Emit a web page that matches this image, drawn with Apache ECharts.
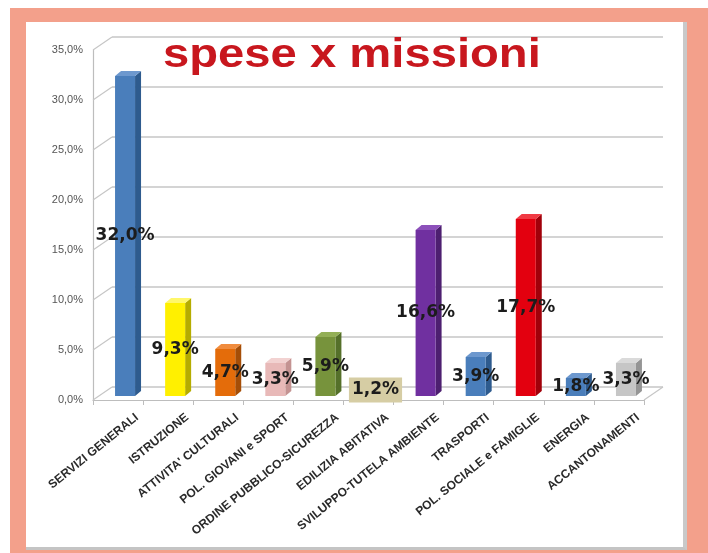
<!DOCTYPE html>
<html>
<head>
<meta charset="utf-8">
<script src="https://cdn.jsdelivr.net/npm/echarts@6/dist/echarts.min.js"></script>
<style>
  html, body { margin: 0; padding: 0; background: #ffffff; }
  #frame { position: absolute; left: 10px; top: 8px; width: 698px; height: 545px; background: #F3A08B; }
  #panel { position: absolute; left: 26px; top: 22px; width: 657px; height: 525px; background: #ffffff;
           border-right: 4px solid #c9c9c9; border-bottom: 3px solid #c4c4c4; }
  #chart { position: absolute; left: 0; top: 0; width: 708px; height: 553px; }
</style>
</head>
<body>
<div id="frame"></div>
<div id="panel"></div>
<div id="chart"></div>
<script>
// ---- data ----
const categories = [
  'SERVIZI GENERALI', 'ISTRUZIONE', "ATTIVITA' CULTURALI", 'POL. GIOVANI e SPORT',
  'ORDINE PUBBLICO-SICUREZZA', 'EDILIZIA ABITATIVA', 'SVILUPPO-TUTELA AMBIENTE',
  'TRASPORTI', 'POL. SOCIALE e FAMIGLIE', 'ENERGIA', 'ACCANTONAMENTI'
];
const values = [32.0, 9.3, 4.7, 3.3, 5.9, 1.2, 16.6, 3.9, 17.7, 1.8, 3.3];
const yTickValues = [0, 5, 10, 15, 20, 25, 30, 35];
const yTickLabels = ['0,0%', '5,0%', '10,0%', '15,0%', '20,0%', '25,0%', '30,0%', '35,0%'];
const titleText = 'spese x missioni';

// ---- styles ----
const faceColors = ['#4A7EBB', '#FFF000', '#E46C0A', '#E8B9B8', '#77933C', '#C4BD97',
                    '#7030A0', '#4A7EBB', '#E3000F', '#4A7EBB', '#C6C6C6'];
const sideColors = ['#2E5B8E', '#B5AC00', '#A54E07', '#C49392', '#55702A', '#9C9470',
                    '#4D1F70', '#2E5B8E', '#A1000A', '#2E5B8E', '#959595'];
const topColors  = ['#6D98CE', '#FFF76A', '#F08C3E', '#F2D2D1', '#93AF56', '#D8D2B2',
                    '#8C50BA', '#6D98CE', '#F03A44', '#6D98CE', '#DADADA'];

const fmt = v => v.toFixed(1).replace('.', ',') + '%';

const chart = echarts.init(document.getElementById('chart'), null, { renderer: 'canvas' });

const barData = values.map((v, i) => [i, v]);

chart.setOption({
  backgroundColor: 'transparent',
  animation: false,
  grid: [
    // 0: bars
    { left: 100, right: 57, top: 46, bottom: 157 },
    // 1: back wall (grid lines + category labels)
    { left: 112, right: 45, top: 37, bottom: 166 },
    // 2: front axes
    { left: 93, right: 64, top: 50, bottom: 153 }
  ],
  xAxis: [
    { gridIndex: 0, type: 'category', data: categories, show: false },
    { gridIndex: 1, type: 'category', data: categories,
      axisLine: { show: false }, axisTick: { show: false },
      axisLabel: { rotate: 39, margin: 29, interval: 0, color: '#2a2a2a',
                   fontFamily: 'Liberation Sans', fontWeight: 'bold', fontSize: 12 } },
    { gridIndex: 2, type: 'category', data: categories,
      axisLine: { show: true, lineStyle: { color: '#bdbdbd', width: 1.2 } },
      axisTick: { show: true, interval: 0, length: 5, lineStyle: { color: '#bdbdbd' } },
      axisLabel: { show: false } }
  ],
  yAxis: [
    { gridIndex: 0, type: 'value', min: 0, max: 35, show: false },
    { gridIndex: 1, type: 'value', min: 0, max: 35, interval: 5,
      axisLine: { show: false }, axisTick: { show: false }, axisLabel: { show: false },
      splitLine: { show: true, lineStyle: { color: '#c6c6c6', width: 1.6 } } },
    { gridIndex: 2, type: 'value', min: 0, max: 35, interval: 5,
      axisLine: { show: true, lineStyle: { color: '#bdbdbd', width: 1.2 } },
      axisTick: { show: false },
      splitLine: { show: false },
      axisLabel: { margin: 10, color: '#555', fontFamily: 'Liberation Sans', fontSize: 11,
                   formatter: v => yTickLabels[yTickValues.indexOf(v)] } }
  ],
  graphic: {
    elements: [
      { type: 'text', x: 163, y: 56, scaleX: 1.18, z: 10,
        style: { text: titleText, font: 'bold 40px "Liberation Sans", Arial, sans-serif',
                 fill: '#C8171E', textAlign: 'left', textVerticalAlign: 'middle' } }
    ]
  },
  series: [
    // perspective connectors from front axis to back wall
    {
      type: 'custom', xAxisIndex: 2, yAxisIndex: 2, z: 1, silent: true,
      data: yTickValues.map(v => [0, v]),
      renderItem: function (params, api) {
        const v = api.value(1);
        const p = api.coord([0, v]);
        const half = api.size([1, 0])[0] / 2;
        const xl = p[0] - half;
        const children = [{
          type: 'line', shape: { x1: xl, y1: p[1], x2: xl + 19, y2: p[1] - 13 },
          style: { stroke: '#c6c6c6', lineWidth: 1.2 }
        }];
        if (v === 0) {
          const pr = api.coord([categories.length - 1, 0]);
          const xr = pr[0] + half;
          children.push({
            type: 'line', shape: { x1: xr, y1: pr[1], x2: xr + 19, y2: pr[1] - 13 },
            style: { stroke: '#c6c6c6', lineWidth: 1.2 }
          });
        }
        return { type: 'group', children: children };
      }
    },
    // 3D bars
    {
      type: 'custom', xAxisIndex: 0, yAxisIndex: 0, z: 3,
      data: barData,
      renderItem: function (params, api) {
        const i = api.value(0), v = api.value(1);
        const base = api.coord([i, 0]);
        const top = api.coord([i, v]);
        const bw = 20, dx = 6, dy = 5;
        const x0 = base[0] - bw / 2, x1 = base[0] + bw / 2;
        return {
          type: 'group',
          children: [
            { type: 'polygon', shape: { points: [[x1, top[1]], [x1 + dx, top[1] - dy], [x1 + dx, base[1] - dy], [x1, base[1]]] },
              style: { fill: sideColors[i] } },
            { type: 'polygon', shape: { points: [[x0, top[1]], [x0 + dx, top[1] - dy], [x1 + dx, top[1] - dy], [x1, top[1]]] },
              style: { fill: topColors[i] } },
            { type: 'rect', shape: { x: x0, y: top[1], width: bw, height: base[1] - top[1] },
              style: { fill: faceColors[i] } }
          ]
        };
      }
    },
    // value labels
    {
      type: 'custom', xAxisIndex: 0, yAxisIndex: 0, z: 5, silent: true,
      data: barData,
      renderItem: function (params, api) {
        const i = api.value(0), v = api.value(1);
        const base = api.coord([i, 0]);
        const top = api.coord([i, v]);
        const st = {
          text: fmt(v), x: base[0], y: (base[1] + top[1]) / 2,
          font: 'bold 17px "DejaVu Sans", Verdana, sans-serif',
          fill: '#1c1c1c', textAlign: 'center', textVerticalAlign: 'middle'
        };
        if (i === 5) {
          st.backgroundColor = '#D6CDA4';
          st.padding = [4, 3, 4, 3];
        }
        return { type: 'text', style: st };
      }
    }
  ]
});
</script>
</body>
</html>
